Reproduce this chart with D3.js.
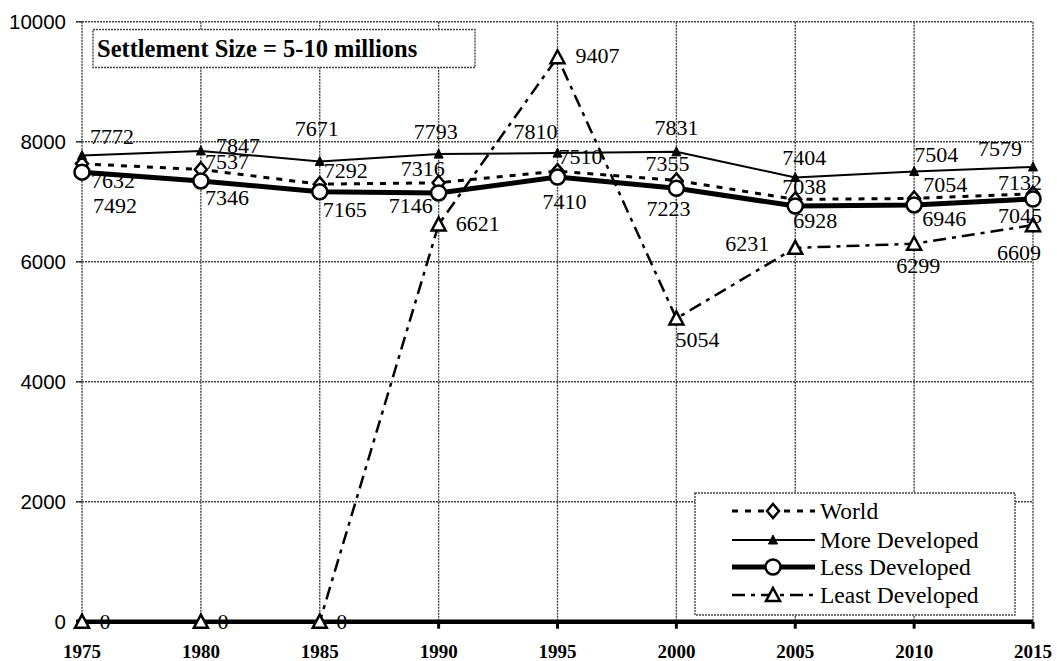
<!DOCTYPE html>
<html><head><meta charset="utf-8">
<script src="https://cdn.jsdelivr.net/npm/d3@7"></script>
<style>body{margin:0;background:#fff} svg{display:block}</style>
</head><body><svg id="c" width="1057" height="661"></svg>
<script>
// ---- data ----
const years = [1975, 1980, 1985, 1990, 1995, 2000, 2005, 2010, 2015];
const world = [7632, 7537, 7292, 7316, 7510, 7355, 7038, 7054, 7132];
const moreDeveloped = [7772, 7847, 7671, 7793, 7810, 7831, 7404, 7504, 7579];
const lessDeveloped = [7492, 7346, 7165, 7146, 7410, 7223, 6928, 6946, 7045];
const leastDeveloped = [0, 0, 0, 6621, 9407, 5054, 6231, 6299, 6609];
const yTicks = [0, 2000, 4000, 6000, 8000, 10000];
const xTicks = years;
const seriesNames = ["World", "More Developed", "Less Developed", "Least Developed"];
const titleText = "Settlement Size = 5-10 millions";

// ---- label placement (layout only) ----
const labelOffsets = {
  "World": [[31,17],[26,-8],[26,-14],[-16,-14],[23,-15],[-9,-17],[9,-13],[31,-14],[-13,-11]],
  "More Developed": [[30,-19],[37,-5],[-3,-33],[-3,-23],[-22,-22],[0,-24],[9,-20],[22,-17],[-33,-18]],
  "Less Developed": [[33,33],[26,17],[25,18],[-28,13],[7,24],[-8,20],[20,14],[30,14],[-13,16]],
  "Least Developed": [[23,0],[22,0],[22,0],[39,-1],[40,-2],[21,21],[-48,-4],[4,22],[-14,27]]
};

const svg = d3.select("#c");
const x = d3.scaleLinear().domain([1975, 2015]).range([82, 1033]);
const y = d3.scaleLinear().domain([0, 10000]).range([621.7, 21.7]);
const serif = "'Liberation Serif','Times New Roman',serif";
const sans = "'Liberation Sans',Arial,sans-serif";

// gridlines
const grid = svg.append("g");
grid.selectAll("line.h").data(yTicks.filter(d => d > 0)).join("line")
  .attr("x1", 76).attr("x2", x(2015)).attr("y1", d => y(d)).attr("y2", d => y(d))
  .attr("stroke", "#444").attr("stroke-width", 1.4).attr("stroke-dasharray", "2,1");
grid.selectAll("line.v").data(xTicks).join("line")
  .attr("x1", d => x(d)).attr("x2", d => x(d)).attr("y1", y(10000)).attr("y2", y(0))
  .attr("stroke", "#444").attr("stroke-width", 1.4).attr("stroke-dasharray", "2,1");

// y axis labels
svg.append("g").selectAll("text").data(yTicks).join("text")
  .attr("x", 66).attr("y", d => y(d)).attr("text-anchor", "end").attr("dominant-baseline", "central")
  .attr("font-family", sans).attr("font-size", 20.5).attr("fill", "#000").text(d => d);
svg.append("g").selectAll("line").data(yTicks.filter(d => d > 0)).join("line")
  .attr("x1", 76).attr("x2", 82).attr("y1", d => y(d)).attr("y2", d => y(d))
  .attr("stroke", "#333").attr("stroke-width", 1.4);

// x axis
svg.append("line").attr("x1", 76).attr("x2", x(2015)).attr("y1", y(0)).attr("y2", y(0))
  .attr("stroke", "#000").attr("stroke-width", 4.5);
svg.append("g").selectAll("line").data(xTicks).join("line")
  .attr("x1", d => x(d)).attr("x2", d => x(d)).attr("y1", y(0)).attr("y2", y(0) + 7)
  .attr("stroke", "#000").attr("stroke-width", 3);
svg.append("g").selectAll("text").data(xTicks).join("text")
  .attr("x", d => x(d)).attr("y", 651).attr("text-anchor", "middle").attr("dominant-baseline", "central")
  .attr("font-family", serif).attr("font-weight", "bold").attr("font-size", 19).text(d => d);

// title box
svg.append("rect").attr("x", 93).attr("y", 29.5).attr("width", 382).attr("height", 38)
  .attr("fill", "#fff").attr("stroke", "#444").attr("stroke-width", 1.4).attr("stroke-dasharray", "2,1");
svg.append("text").attr("x", 97).attr("y", 48).attr("dominant-baseline", "central")
  .attr("font-family", serif).attr("font-weight", "bold").attr("font-size", 24.5).text(titleText);

// marker shapes
function marker(g, kind) {
  if (kind === "diamond") g.append("path").attr("d", "M0,-7L6,0L0,7L-6,0Z").attr("fill", "#fff").attr("stroke", "#000").attr("stroke-width", 2.5);
  else if (kind === "tri") g.append("path").attr("d", "M0,-5L4.5,4L-4.5,4Z").attr("fill", "#000").attr("stroke", "#000").attr("stroke-width", 1);
  else if (kind === "circle") g.append("circle").attr("r", 7.5).attr("fill", "#fff").attr("stroke", "#000").attr("stroke-width", 2.5);
  else if (kind === "otri") g.append("path").attr("d", "M0,-7L7,6L-7,6Z").attr("fill", "#fff").attr("stroke", "#000").attr("stroke-width", 2.5);
}

const series = [
  {name: seriesNames[0], values: world, width: 3, dash: "6,7", mk: "diamond"},
  {name: seriesNames[1], values: moreDeveloped, width: 2, dash: null, mk: "tri"},
  {name: seriesNames[2], values: lessDeveloped, width: 5, dash: null, mk: "circle"},
  {name: seriesNames[3], values: leastDeveloped, width: 2.5, dash: "13,6,4,6", mk: "otri"}
];

const line = d3.line().x(d => x(d[0])).y(d => y(d[1]));
series.forEach(s => {
  const pts = years.map((yr, i) => [yr, s.values[i]]);
  const g = svg.append("g");
  g.append("path").attr("d", line(pts)).attr("fill", "none").attr("stroke", "#000")
    .attr("stroke-width", s.width).attr("stroke-dasharray", s.dash);
  pts.forEach(p => marker(g.append("g").attr("transform", `translate(${x(p[0])},${y(p[1])})`), s.mk));
});
// data labels
series.forEach(s => {
  const offs = labelOffsets[s.name];
  svg.append("g").selectAll("text").data(years).join("text")
    .attr("x", (d, i) => x(d) + offs[i][0]).attr("y", (d, i) => y(s.values[i]) + offs[i][1])
    .attr("text-anchor", "middle").attr("dominant-baseline", "central")
    .attr("font-family", serif).attr("font-size", 22).text((d, i) => s.values[i]);
});

// legend
const lg = svg.append("g");
lg.append("rect").attr("x", 695).attr("y", 493).attr("width", 320).attr("height", 122)
  .attr("fill", "#fff").attr("stroke", "#444").attr("stroke-width", 1.4).attr("stroke-dasharray", "2,1");
const legendY = [511, 540, 567, 595];
series.forEach((s, i) => {
  const g = lg.append("g").attr("transform", `translate(0,${legendY[i]})`);
  g.append("line").attr("x1", 732).attr("x2", 815).attr("y1", 0).attr("y2", 0)
    .attr("stroke", "#000").attr("stroke-width", s.width).attr("stroke-dasharray", s.dash);
  marker(g.append("g").attr("transform", "translate(773,0)"), s.mk);
  g.append("text").attr("x", 820).attr("y", 0).attr("dominant-baseline", "central")
    .attr("font-family", serif).attr("font-size", 23.5).text(s.name);
});
</script></body></html>
